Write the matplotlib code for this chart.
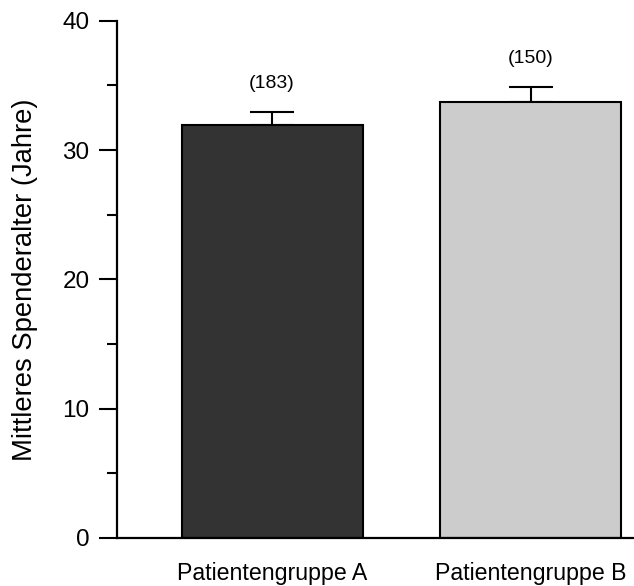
import matplotlib
matplotlib.use("Agg")
import matplotlib.pyplot as plt
from matplotlib.ticker import MultipleLocator

plt.rcParams['font.family'] = ['Liberation Sans', 'DejaVu Sans']

categories = ["Patientengruppe A", "Patientengruppe B"]
means = [31.9, 33.7]
errors = [1.05, 1.2]
counts = ["(183)", "(150)"]
colors = ["#333333", "#cccccc"]
ylabel = "Mittleres Spenderalter (Jahre)"

fig = plt.figure(figsize=(6.34, 5.86), dpi=100)
ax = fig.add_axes([117/634, 1 - 538/586, 1 - 117/634, (538 - 20.7)/586])

x = list(range(len(categories)))
ax.bar(x, means, width=0.7, color=colors, edgecolor="black", linewidth=1.5, zorder=2)
ax.errorbar(x, means, yerr=[[0]*len(errors), errors], fmt="none", ecolor="black",
            elinewidth=1.5, capsize=16, capthick=1.5, zorder=1)

for xi, m, e, c in zip(x, means, errors, counts):
    ax.annotate(c, xy=(xi, m + e), xytext=(0, 14), textcoords="offset points",
                ha="center", va="bottom", fontsize=14)

ax.set_xlim(-0.6, 1.4)
ax.set_ylim(0, 40)
ax.yaxis.set_major_locator(MultipleLocator(10))
ax.yaxis.set_minor_locator(MultipleLocator(5))
ax.set_xticks(x)
ax.set_xticklabels(categories, fontsize=16.7)
ax.tick_params(axis="x", length=0, pad=17.5)
ax.tick_params(axis="y", which="major", length=13.3, width=1.5, labelsize=17.5, pad=6.5)
ax.tick_params(axis="y", which="minor", length=7, width=1.5)

for s in ["top", "right"]:
    ax.spines[s].set_visible(False)
for s in ["left", "bottom"]:
    ax.spines[s].set_linewidth(1.6)

ax.set_ylabel(ylabel, fontsize=19.7)
ax.yaxis.set_label_coords(-0.153, 0.5)

fig.savefig("out.png", dpi=100)
